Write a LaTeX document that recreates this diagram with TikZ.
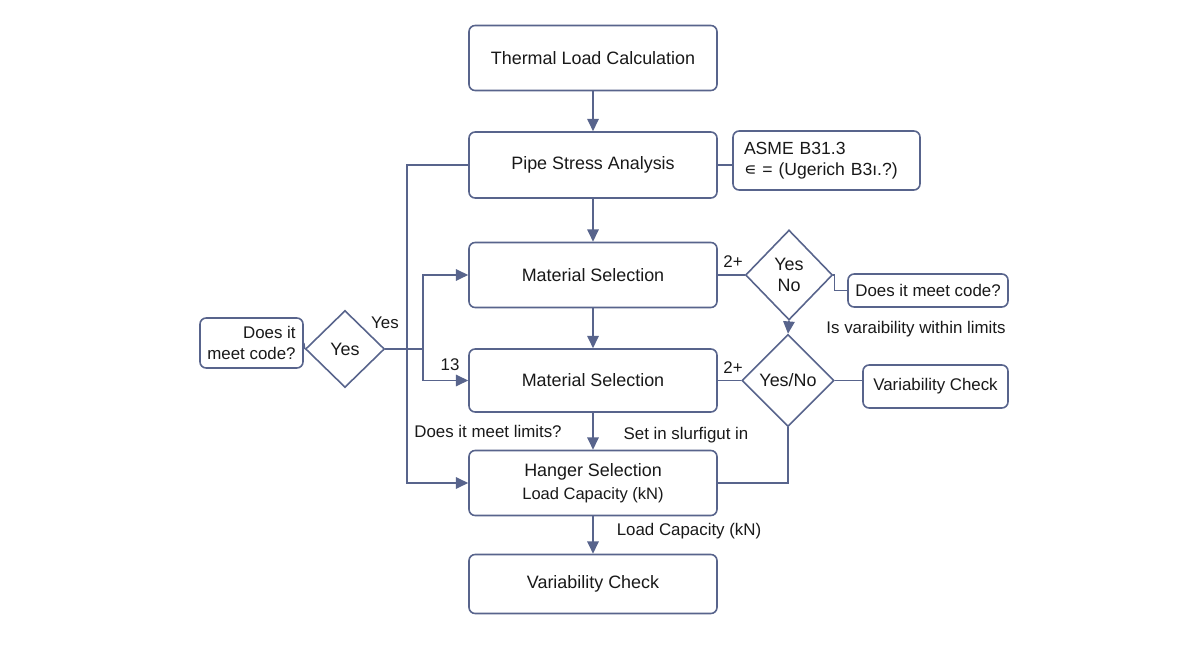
\documentclass[tikz,border=0pt]{standalone}
\usepackage{fontspec}
\setmainfont{Liberation Sans}
\newfontfamily\symfont{DejaVu Sans}
\usepackage{tikz}
\usetikzlibrary{arrows.meta, positioning, shapes.geometric, calc}

\definecolor{edgeblue}{RGB}{88,100,140}
\definecolor{tipblue}{RGB}{58,78,150}

\begin{document}
\begin{tikzpicture}[
  every node/.style={font=\fontsize{9.6}{11.5}\selectfont, text=black!90},
  box/.style={draw=edgeblue, line width=0.9pt, minimum height=1.3cm, minimum width=4.96cm,
              rounded corners=3.5pt, fill=white, align=center, inner sep=2pt,
              font=\fontsize{10.2}{12}\selectfont},
  sidebox/.style={box, minimum width=1cm, font=\fontsize{9.6}{11.5}\selectfont},
  decision/.style={diamond, draw=edgeblue, line width=0.9pt, fill=white, align=center,
                   inner sep=0pt, font=\fontsize{10.2}{12}\selectfont},
  arr/.style={-{Triangle[length=7pt, width=6.5pt]}, draw=edgeblue, line width=0.9pt},
  link/.style={draw=edgeblue, line width=0.9pt},
]
  \useasboundingbox (0, 0) rectangle (24, 13.08);

  % main column
  \node[box] (therm) at (11.86, 11.92) {Thermal Load Calculation};
  \node[box, minimum height=1.32cm] (pipe) at (11.86, 9.78) {Pipe Stress Analysis};
  \node[box] (mat1) at (11.86, 7.58) {Material Selection};
  \node[box, minimum height=1.26cm] (mat2) at (11.86, 5.47) {Material Selection};
  \node[box] (hang) at (11.86, 3.42)
       {Hanger Selection\\[1pt]{\fontsize{9.4}{11}\selectfont Load Capacity (kN)}};
  \node[box, minimum height=1.18cm] (varb) at (11.86, 1.40) {Variability Check};

  % right side
  \node[sidebox, minimum width=3.74cm, minimum height=1.18cm, align=left, text width=3.3cm,
        font=\fontsize{10}{12}\selectfont] (asme) at (16.53, 9.87)
       {ASME B31.3\\{\symfont ∊} = (Ugerich B3ı.?)};
  \node[decision, minimum width=1.74cm, minimum height=1.80cm] (d1) at (15.78, 7.58) {Yes\\No};
  \node[decision, minimum width=1.84cm, minimum height=1.84cm] (d2) at (15.76, 5.47) {Yes/No};
  \node[sidebox, minimum width=3.2cm, minimum height=0.66cm] (code1) at (18.56, 7.27)
       {Does it meet code?};
  \node[sidebox, minimum width=2.9cm, minimum height=0.86cm] (varr) at (18.71, 5.35)
       {Variability Check};

  % left side
  \node[sidebox, minimum width=2.06cm, minimum height=1.0cm, align=right] (codeL) at (5.03, 6.22)
       {Does it\\meet code?};
  \node[decision, minimum width=1.58cm, minimum height=1.54cm] (dL) at (6.90, 6.10) {Yes};
  \coordinate (jn) at (8.46, 6.10);
  \coordinate (lx) at (8.14, 0);

  % connectors
  \draw[arr] (therm) -- (pipe);
  \draw[arr] (pipe) -- (mat1);
  \draw[arr] (mat1) -- (mat2);
  \draw[arr] (mat2) -- (hang);
  \draw[arr] (hang) -- (varb);

  \draw[link] (pipe.east) -- (pipe.east -| asme.west);
  \draw[link] (mat1.east) -- (d1.west);
  \draw[link] (mat2.east) -- (d2.west);
  \draw[arr] (d1.south) -- (d2.north);
  \draw[link] (d1.east) -- ++(0.02, 0) |- (code1.west);
  \draw[link] (d2.east) -- (d2.east -| varr.west);
  \draw[link] (d2.south) |- (hang.east);

  \draw[link] (codeL.east) -- (dL.west);
  \draw[link] (dL.east) -- (jn);
  \draw[arr] (jn) |- (mat1.west);
  \draw[arr] (jn) |- (mat2.west);
  \draw[arr] (pipe.west) -- (pipe.west -| lx) |- (hang.west);

  % labels
  \node (lyes) at (7.70, 6.62) {Yes};
  \node (l13) at (9.00, 5.78) {13};
  \node (l2a) at (14.66, 7.84) {2+};
  \node (l2b) at (14.66, 5.73) {2+};
  \node (llim) at (9.76, 4.46) {Does it meet limits?};
  \node (lset) at (13.72, 4.38) {Set in slurfigut in};
  \node (lcap) at (13.78, 2.46) {Load Capacity (kN)};
  \node (lvar) at (18.32, 6.50) {Is varaibility within limits};
\end{tikzpicture}
\end{document}
